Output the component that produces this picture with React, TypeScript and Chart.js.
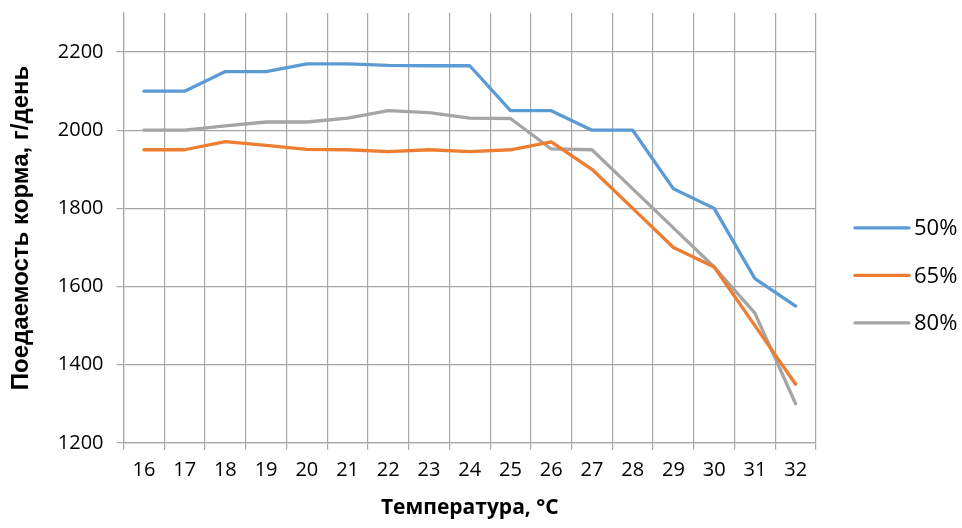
import React, { useEffect, useRef } from 'react';
import { Chart, registerables } from 'chart.js';

Chart.register(...registerables);

const temperatures = ['16', '17', '18', '19', '20', '21', '22', '23', '24', '25', '26', '27', '28', '29', '30', '31', '32'];
const seriesNames = ['50%', '65%', '80%'];
const feed50 = [2100, 2100, 2150, 2150, 2170, 2170, 2166, 2165, 2165, 2050, 2050, 2000, 2000, 1850, 1800, 1620, 1550];
const feed65 = [1950, 1950, 1971, 1961, 1951, 1950, 1945, 1950, 1945, 1950, 1970, 1900, 1800, 1700, 1650, 1500, 1350];
const feed80 = [2000, 2000, 2011, 2021, 2021, 2031, 2050, 2045, 2031, 2030, 1952, 1950, 1850, 1750, 1650, 1532, 1300];
const seriesColors = ['#5B9BD5', '#ED7D31', '#A5A5A5'];
const yMin = 1200;
const yMax = 2300;
const yStep = 200;
const yLastLabel = 2200;
const xTitle = 'Температура, °C';
const yTitle = 'Поедаемость корма, г/день';

const sideLegend = {
  id: 'sideLegend',
  afterDraw(chart: any) {
    const ctx = chart.ctx;
    const area = chart.chartArea;
    const x0 = area.right + 39;
    const lineLen = 54;
    const gap = 5;
    const step = 47.5;
    const cy = (area.top + area.bottom) / 2;
    ctx.save();
    ctx.font = '22px "Open Sans"';
    ctx.textBaseline = 'middle';
    ctx.textAlign = 'left';
    chart.data.datasets.forEach((ds: any, i: number) => {
      const y = cy + i * step;
      ctx.strokeStyle = ds.borderColor;
      ctx.lineWidth = 3.3;
      ctx.lineCap = 'round';
      ctx.beginPath();
      ctx.moveTo(x0, y);
      ctx.lineTo(x0 + lineLen, y);
      ctx.stroke();
      ctx.fillStyle = '#000';
      ctx.fillText(ds.label, x0 + lineLen + gap, y + 1);
    });
    ctx.restore();
  },
};

export default function App() {
  const canvasRef = useRef<HTMLCanvasElement | null>(null);

  useEffect(() => {
    if (!canvasRef.current) return;
    const gridColor = '#A6A6A6';
    const values = [feed50, feed65, feed80];
    const chart = new Chart(canvasRef.current, {
      type: 'line',
      data: {
        labels: temperatures,
        datasets: values.map((v, i) => ({
          label: seriesNames[i],
          data: v,
          borderColor: seriesColors[i],
          backgroundColor: seriesColors[i],
          borderWidth: 3.3,
          pointRadius: 0,
          tension: 0,
          borderCapStyle: 'round' as const,
          borderJoinStyle: 'round' as const,
        })),
      },
      plugins: [sideLegend],
      options: {
        animation: false,
        responsive: true,
        maintainAspectRatio: false,
        layout: { padding: { top: 13, right: 146, bottom: 7, left: 7 } },
        plugins: {
          tooltip: { enabled: false },
          legend: { display: false },
        },
        scales: {
          x: {
            type: 'category',
            offset: true,
            grid: { offset: true, color: gridColor, lineWidth: 1.2, tickLength: 7, drawTicks: true },
            border: { color: gridColor, width: 1.2 },
            ticks: {
              color: '#000',
              font: { family: 'Open Sans', size: 20 },
              padding: 8,
              maxRotation: 0,
              autoSkip: false,
            },
            title: {
              display: true,
              text: xTitle,
              color: '#000',
              font: { family: 'Open Sans', size: 21, weight: 'bold' },
              padding: { top: 6, bottom: 0 },
            },
          },
          y: {
            min: yMin,
            max: yMax,
            afterBuildTicks: (axis: any) => {
              axis.ticks = axis.ticks.filter((t: any) => t.value <= yLastLabel);
            },
            afterFit: (axis: any) => {
              axis.paddingTop = 0;
            },
            grid: { color: gridColor, lineWidth: 1.2, tickLength: 7, drawTicks: true },
            border: { color: gridColor, width: 1.2 },
            ticks: {
              stepSize: yStep,
              color: '#000',
              font: { family: 'Open Sans', size: 20 },
              padding: 13,
              callback: (v: any) => String(v),
            },
            title: {
              display: true,
              text: yTitle,
              color: '#000',
              font: { family: 'Liberation Sans', size: 24, weight: 'bold' },
              padding: { top: 0, bottom: 9 },
            },
          },
        },
      },
    });
    return () => chart.destroy();
  }, []);

  return (
    <div style={{ position: 'absolute', left: 0, top: 0, width: 962, height: 528, background: '#fff' }}>
      <canvas ref={canvasRef} />
    </div>
  );
}
